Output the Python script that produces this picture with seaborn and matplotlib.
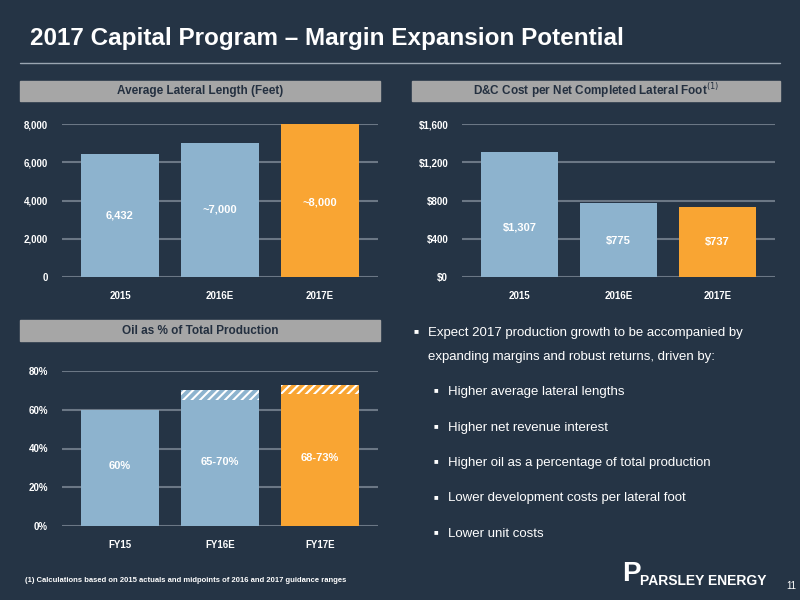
import matplotlib
matplotlib.use("Agg")
import matplotlib.pyplot as plt
import seaborn as sns
import pandas as pd
from matplotlib.ticker import FuncFormatter

sns.set_theme(style="white")
plt.rcParams['font.family'] = ['Liberation Sans', 'DejaVu Sans']
plt.rcParams['hatch.color'] = 'white'
plt.rcParams['hatch.linewidth'] = 1.5

BG = '#253445'; BLUE = '#8DB3CE'; ORANGE = '#F9A533'; GRID = '#6B7785'; HEAD = '#A6A6A6'

years1 = ['2015', '2016E', '2017E']
lateral = [6432, 7000, 8000]
lateral_labels = ['6,432', '~7,000', '~8,000']
cost = [1307, 775, 737]
cost_labels = ['$1,307', '$775', '$737']
fy = ['FY15', 'FY16E', 'FY17E']
oil_low = [60, 65, 68]
oil_high = [60, 70, 73]
oil_labels = ['60%', '65-70%', '68-73%']
colors = [BLUE, BLUE, ORANGE]

fig = plt.figure(figsize=(8, 6), dpi=100, facecolor=BG)

def fx(x): return x / 800
def fy_(y): return 1 - y / 600

def make_ax(l, r, t, b):
    ax = fig.add_axes([fx(l), fy_(b), fx(r - l), (b - t) / 600])
    ax.set_facecolor(BG)
    for s in ax.spines.values(): s.set_visible(False)
    ax.yaxis.grid(True, color=GRID, lw=1.5)
    ax.set_axisbelow(True)
    ax.tick_params(colors='white', labelsize=7, length=0, pad=10)
    return ax

def header(l, r, t, b, text):
    fig.patches.append(plt.Rectangle((fx(l), fy_(b)), fx(r - l), (b - t) / 600,
                                     transform=fig.transFigure, color=HEAD, zorder=0))
    fig.text(fx((l + r) / 2), fy_((t + b) / 2), text, ha='center', va='center',
             color='#243040', fontsize=8.5, fontweight='bold')

def bars(ax, cats, vals, labs, ypos, fmt):
    df = pd.DataFrame({'c': cats, 'v': vals})
    sns.barplot(data=df, x='c', y='v', hue='c', palette=colors, legend=False, ax=ax,
                width=0.78, saturation=1, linewidth=0)
    ax.set_xlabel(''); ax.set_ylabel('')
    for i, (lab, yv) in enumerate(zip(labs, ypos)):
        ax.text(i, yv, lab, ha='center', va='center', color='white', fontsize=8, fontweight='bold')
    ax.yaxis.set_major_formatter(FuncFormatter(fmt))

def boldticks(ax):
    for t_ in ax.get_xticklabels() + ax.get_yticklabels(): t_.set_fontweight('bold')

fig.text(fx(30), fy_(38), '2017 Capital Program \u2013 Margin Expansion Potential', color='white',
         fontsize=17.5, fontweight='bold', va='center')
fig.lines.append(plt.Line2D([fx(20), fx(780)], [fy_(63), fy_(63)], transform=fig.transFigure, color='#9aa5b1', lw=1))

header(20, 380, 81, 101, 'Average Lateral Length (Feet)')
header(412, 780, 81, 101, 'D&C Cost per Net Completed Lateral Foot$^{(1)}$')
header(20, 380, 320, 341, 'Oil as % of Total Production')

ax1 = make_ax(62, 378, 124, 277)
bars(ax1, years1, lateral, lateral_labels, [3200, 3550, 3900], lambda v, p: f'{v:,.0f}')
ax1.set_ylim(0, 8000); ax1.set_yticks(range(0, 8001, 2000)); ax1.set_xlim(-0.58, 2.58)
boldticks(ax1)

ax2 = make_ax(462, 775, 124, 277)
bars(ax2, years1, cost, cost_labels, [520, 375, 370], lambda v, p: f'${v:,.0f}')
ax2.set_ylim(0, 1600); ax2.set_yticks(range(0, 1601, 400)); ax2.set_xlim(-0.58, 2.58)
boldticks(ax2)

ax3 = make_ax(62, 378, 371, 526)
bars(ax3, fy, oil_low, oil_labels, [31, 33, 35], lambda v, p: f'{v:.0f}%')
for i, (lo, hi) in enumerate(zip(oil_low, oil_high)):
    if hi > lo:
        ax3.bar(i, hi - lo, bottom=lo, width=0.78, color=colors[i], hatch='////', lw=0)
ax3.set_ylim(0, 80); ax3.set_yticks(range(0, 81, 20)); ax3.set_xlim(-0.58, 2.58)
boldticks(ax3)

fig.text(fx(414), fy_(332), '\u25a0', color='white', fontsize=6, va='center')
fig.text(fx(428), fy_(333), 'Expect 2017 production growth to be accompanied by', color='white', fontsize=9.5, va='center')
fig.text(fx(428), fy_(357), 'expanding margins and robust returns, driven by:', color='white', fontsize=9.5, va='center')
subs = ['Higher average lateral lengths', 'Higher net revenue interest',
        'Higher oil as a percentage of total production', 'Lower development costs per lateral foot',
        'Lower unit costs']
for k, s in enumerate(subs):
    y = 392 + k * 35.5
    fig.text(fx(434), fy_(y - 1), '\u25a0', color='white', fontsize=5.5, va='center')
    fig.text(fx(448), fy_(y), s, color='white', fontsize=9.5, va='center')

fig.text(fx(25), fy_(580), '(1) Calculations based on 2015 actuals and midpoints of 2016 and 2017 guidance ranges',
         color='white', fontsize=5.5, fontweight='bold', va='center')
fig.text(fx(622), fy_(574), 'P', color='white', fontsize=20, fontweight='bold', va='center')
fig.text(fx(640), fy_(581), 'PARSLEY ENERGY', color='white', fontsize=10, fontweight='bold', va='center')
fig.text(fx(786), fy_(586), '11', color='white', fontsize=7, va='center')

fig.savefig('out.png', dpi=100, facecolor=BG)
